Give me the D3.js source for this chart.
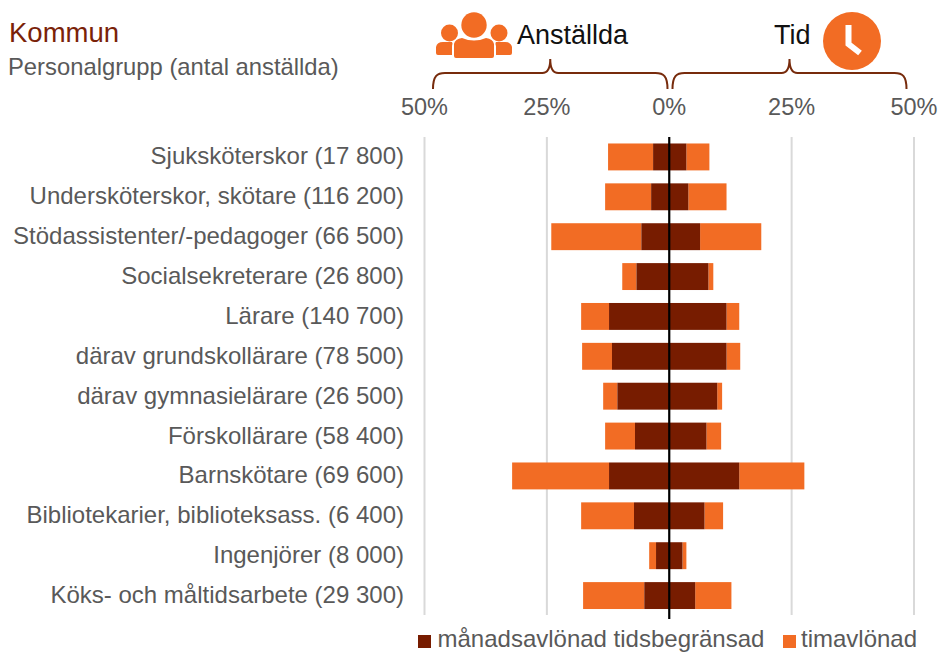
<!DOCTYPE html>
<html><head><meta charset="utf-8">
<script src="https://cdn.jsdelivr.net/npm/d3@7"></script>
<style>html,body{margin:0;padding:0;background:#fff}svg{display:block}text{font-family:"Liberation Sans",Arial,sans-serif}</style>
</head><body><svg id="c" width="939" height="652"></svg>
<script>
const categories=["Sjuksköterskor (17 800)","Undersköterskor, skötare (116 200)","Stödassistenter/-pedagoger (66 500)","Socialsekreterare (26 800)","Lärare (140 700)","därav grundskollärare (78 500)","därav gymnasielärare (26 500)","Förskollärare (58 400)","Barnskötare (69 600)","Bibliotekarier, biblioteksass. (6 400)","Ingenjörer (8 000)","Köks- och måltidsarbete (29 300)"];
const empMonthly=[3.3,3.7,5.7,6.7,12.3,11.7,10.6,7.0,12.3,7.2,2.7,5.1];
const empHourly=[9.2,9.4,18.4,2.9,5.7,6.1,2.9,6.1,19.8,10.8,1.4,12.5];
const timeMonthly=[3.5,3.9,6.3,8.0,11.7,11.7,9.8,7.6,14.3,7.2,2.7,5.3];
const timeHourly=[4.7,7.8,12.5,1.0,2.6,2.8,1.0,3.0,13.3,3.8,0.8,7.4];
const axisTicks=[-50,-25,0,25,50];
const seriesNames=["månadsavlönad tidsbegränsad","timavlönad"];
const DARK="#771c00",ORANGE="#f26c24",GRID="#d9d9d9",TXT="#595959",BRACE="#772b0c";

const svg=d3.select("#c");
const x=d3.scaleLinear().domain([-50,50]).range([424.5,914]);
const y=d3.scaleBand().domain(categories).range([137,615.5]).paddingInner(0.325).paddingOuter(0.1625);

svg.append("g").selectAll("line").data(axisTicks.filter(d=>d!==0)).join("line")
 .attr("x1",d=>x(d)).attr("x2",d=>x(d)).attr("y1",137).attr("y2",615)
 .attr("stroke",GRID).attr("stroke-width",2);

svg.append("g").selectAll("text").data(axisTicks).join("text")
 .attr("x",d=>x(d)).attr("y",115).attr("text-anchor","middle")
 .attr("font-size",23.5).attr("fill",TXT).text(d=>Math.abs(d)+"%");

const rows=categories.map((c,i)=>({c,em:empMonthly[i],eh:empHourly[i],tm:timeMonthly[i],th:timeHourly[i]}));
const segs=[
 {a:d=>-d.em-d.eh,b:d=>-d.em,f:ORANGE},
 {a:d=>d.tm,b:d=>d.tm+d.th,f:ORANGE},
 {a:d=>-d.em,b:()=>0,f:DARK},
 {a:()=>0,b:d=>d.tm,f:DARK}
];
segs.forEach(s=>{
 svg.append("g").selectAll("rect").data(rows).join("rect")
  .attr("x",d=>x(s.a(d))).attr("width",d=>x(s.b(d))-x(s.a(d)))
  .attr("y",d=>y(d.c)).attr("height",y.bandwidth()).attr("fill",s.f);
});

svg.append("line").attr("x1",x(0)).attr("x2",x(0)).attr("y1",137).attr("y2",619)
 .attr("stroke","#000").attr("stroke-width",2.2);

svg.append("g").selectAll("text").data(categories).join("text")
 .attr("x",404).attr("y",d=>y(d)+y.bandwidth()/2+7.5).attr("text-anchor","end")
 .attr("font-size",24).attr("fill",TXT).text(d=>d);

svg.append("text").attr("x",9).attr("y",42).attr("font-size",27.5).attr("fill","#7a2208").text("Kommun");
svg.append("text").attr("x",8).attr("y",75).attr("font-size",23.8).attr("fill",TXT).text("Personalgrupp (antal anställda)");
svg.append("text").attr("x",517).attr("y",44).attr("font-size",27).attr("fill","#111").text("Anställda");
svg.append("text").attr("x",774).attr("y",44).attr("font-size",27).attr("fill","#111").text("Tid");

function brace(x0,x1){
 const m=(x0+x1)/2, t=73, b=89, c=59;
 return `M${x0},${b} C${x0},${t+3} ${x0+4},${t} ${x0+12},${t} L${m-8},${t} C${m-3},${t} ${m},${t-4} ${m},${c} C${m},${t-4} ${m+3},${t} ${m+8},${t} L${x1-12},${t} C${x1-4},${t} ${x1},${t+3} ${x1},${b}`;
}
svg.append("path").attr("d",brace(433,667.5)).attr("fill","none").attr("stroke",BRACE).attr("stroke-width",2);
svg.append("path").attr("d",brace(672.5,906.5)).attr("fill","none").attr("stroke",BRACE).attr("stroke-width",2);

const ic=svg.append("g").attr("fill",ORANGE);
ic.append("circle").attr("cx",449.5).attr("cy",33).attr("r",8.5);
ic.append("circle").attr("cx",499).attr("cy",33).attr("r",8.5);
ic.append("circle").attr("cx",474).attr("cy",25).attr("r",12.7);
ic.append("path").attr("d","M436,53 L436,47 Q437,42 443,42 L452,42 Q453,43 452,46 L452,55 L438,55 Q436,55 436,53 Z");
ic.append("path").attr("d","M512,53 L512,47 Q511,42 505,42 L496,42 Q495,43 496,46 L496,55 L510,55 Q512,55 512,53 Z");
ic.append("path").attr("d","M454,56 L454,44 Q455,39 462,38 Q474,43 486,38 Q493,39 494,44 L494,56 Q494,58 492,58 L456,58 Q454,58 454,56 Z");

svg.append("circle").attr("cx",852).attr("cy",41).attr("r",29).attr("fill",ORANGE);
svg.append("path").attr("d","M848.5,25 L848.5,44 L860,53").attr("fill","none").attr("stroke","#fff").attr("stroke-width",6);

const lg=[{x:418,c:DARK,t:seriesNames[0],tx:437.5},{x:783,c:ORANGE,t:seriesNames[1],tx:801}];
lg.forEach(l=>{
 svg.append("rect").attr("x",l.x).attr("y",635).attr("width",13).attr("height",13).attr("fill",l.c);
 svg.append("text").attr("x",l.tx).attr("y",646.8).attr("font-size",24).attr("fill",TXT).text(l.t);
});
</script></body></html>
